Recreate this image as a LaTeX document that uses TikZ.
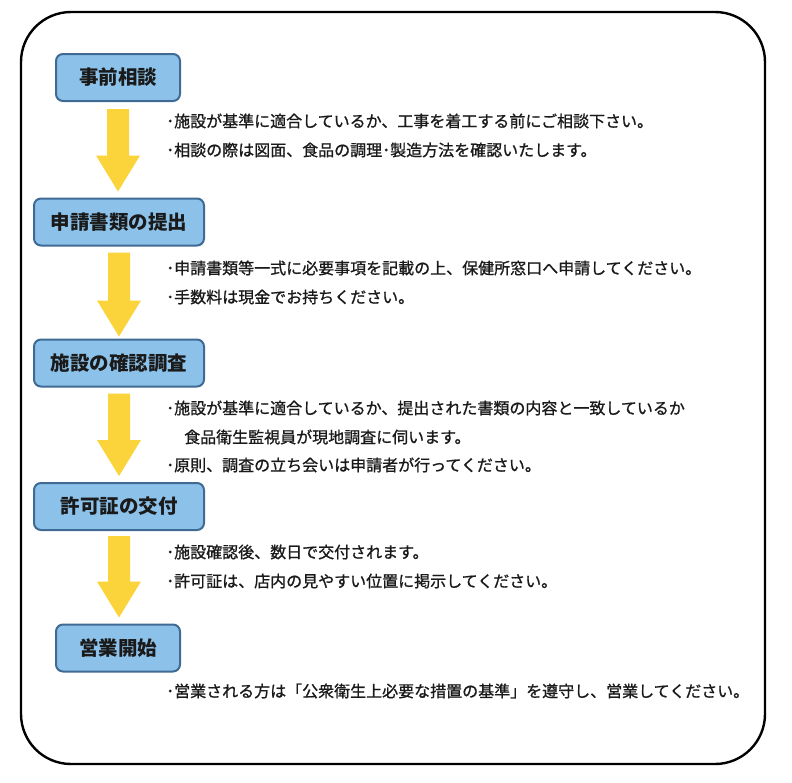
\documentclass[tikz,border=0pt]{standalone}
\usepackage{fontspec}
\setmainfont{Noto Sans CJK JP}
\newfontfamily\notefont[FakeBold=1.0]{Noto Sans CJK JP}
\usetikzlibrary{calc}
\definecolor{boxfill}{HTML}{8CC2EA}
\definecolor{boxline}{HTML}{3F6A94}
\definecolor{arrowcol}{HTML}{FBD33A}
\definecolor{txt}{HTML}{1A1A1A}
\tikzset{
  stepbox/.style={draw=boxline, line width=2pt, fill=boxfill, rounded corners=7pt,
    minimum height=47pt, inner sep=0pt, font=\fontsize{19.5}{21}\selectfont\bfseries, text=txt},
  note/.style={anchor=west, inner sep=0pt, font=\notefont\fontsize{16}{18}\selectfont, text=txt},
  frame/.style={draw=black, line width=2.4pt, rounded corners=50pt}
}
\newcommand\flowarrow[4]{%
  \fill[arrowcol] let \p1=($(#1.south)+(0,#3)$), \p2=($(#2.north)+(0,-#4)$) in
    (\x1-11pt,\y1) -- (\x1+11pt,\y1) -- (\x1+11pt,\y2+36pt) -- (\x1+22pt,\y2+36pt)
    -- (\x1,\y2) -- (\x1-22pt,\y2+36pt) -- (\x1-11pt,\y2+36pt) -- cycle;}
\begin{document}
\begin{tikzpicture}[x=1pt,y=-1pt]
\useasboundingbox (0,0) rectangle (792,782);
\draw[frame] (21,12) rectangle (765,764);
\node[stepbox, minimum width=124pt] (s1) at (118,77.5) {事前相談};
\node[stepbox, minimum width=170pt] (s2) at (119,222) {申請書類の提出};
\node[stepbox, minimum width=170pt] (s3) at (119,363) {施設の確認調査};
\node[stepbox, minimum width=170pt] (s4) at (119,506.5) {許可証の交付};
\node[stepbox, minimum width=124pt] (s5) at (118,648) {営業開始};
\flowarrow{s1}{s2}{7}{6}
\flowarrow{s2}{s3}{6}{2}
\flowarrow{s3}{s4}{6}{6}
\flowarrow{s4}{s5}{5}{6}
\node[note] (t11) at (166,121) {･施設が基準に適合しているか、工事を着工する前にご相談下さい。};
\node[note] (t12) at (166,150) {･相談の際は図面、食品の調理･製造方法を確認いたします。};
\node[note] (t21) at (166,268) {･申請書類等一式に必要事項を記載の上、保健所窓口へ申請してください。};
\node[note] (t22) at (166,297) {･手数料は現金でお持ちください。};
\node[note] (t31) at (166,408) {･施設が基準に適合しているか、提出された書類の内容と一致しているか};
\node[note] (t32) at (184,437) {食品衛生監視員が現地調査に伺います。};
\node[note] (t33) at (166,465) {･原則、調査の立ち会いは申請者が行ってください。};
\node[note] (t41) at (166,552) {･施設確認後、数日で交付されます。};
\node[note] (t42) at (166,581) {･許可証は、店内の見やすい位置に掲示してください。};
\node[note] (t51) at (166,691) {･営業される方は「公衆衛生上必要な措置の基準」を遵守し、営業してください。};
\end{tikzpicture}
\end{document}
